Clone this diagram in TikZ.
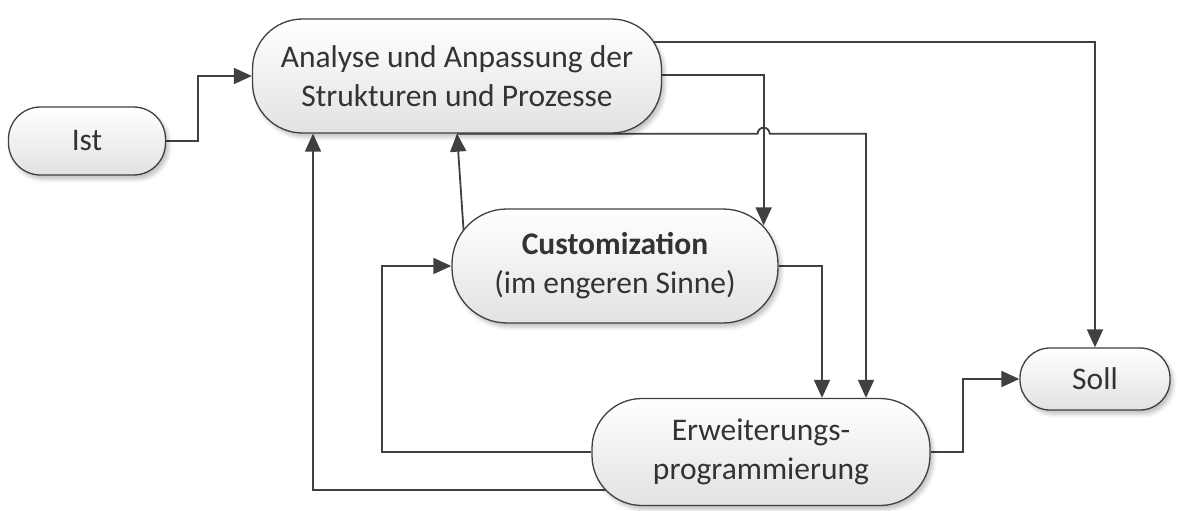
\documentclass[tikz,border=0pt]{standalone}
\usepackage{fontspec}
\setmainfont{Carlito}
\usetikzlibrary{arrows.meta,calc,shadows.blur}
\definecolor{edge}{HTML}{404040}
\definecolor{ink}{HTML}{333333}
\definecolor{fillbot}{HTML}{E2E2E2}
\pgfdeclarelayer{background}
\pgfsetlayers{background,main}
\tikzset{
  term/.style={draw=edge, line width=1.3pt, top color=white, bottom color=fillbot,
    text=ink, align=center, inner sep=0pt, font=\fontsize{31.5}{39}\selectfont,
    blur shadow={shadow xshift=3pt, shadow yshift=-4pt, shadow blur radius=4pt, shadow opacity=25}},
  flow/.style={draw=edge, line width=1.8pt, -{Triangle[length=18pt,width=16pt]}}
}
\begin{document}
\begin{tikzpicture}[x=1pt,y=-1pt]
\useasboundingbox (0,0) rectangle (1179,511);

% process steps
\node[term, minimum width=157pt, minimum height=68pt, rounded corners=32pt] (ist) at (87,141) {Ist};
\node[term, minimum width=409pt, minimum height=114pt, rounded corners=50pt] (ana) at (457,76)
  {Analyse und Anpassung der\\Strukturen und Prozesse};
\node[term, minimum width=326pt, minimum height=114pt, rounded corners=55pt] (cust) at (615,266)
  {\textbf{Customization}\\(im engeren Sinne)};
\node[term, minimum width=338pt, minimum height=107pt, rounded corners=50pt] (erw) at (761,452)
  {Erweiterungs-\\programmierung};
\node[term, minimum width=150pt, minimum height=62pt, rounded corners=30pt] (soll) at (1095,379) {Soll};

% docking points on the borders
\coordinate (custin) at ($(cust.north east)+(-15,17)$);
\coordinate (erwinA) at ($(erw.north)+(61,0)$);
\coordinate (erwinB) at ($(erw.north)+(105,0)$);
\coordinate (anainL) at ($(ana.south)+(-144,0)$);

\begin{pgfonlayer}{background}
\draw[flow] (ist.east) -- ++(32,0) |- (ana.west);
\draw[flow] ($(ana.center)+(0,-34)$) -| (soll.north);
\draw[flow] ($(ana.center)+(0,-1)$) -| (custin);
\draw[flow] (ana.south) -- ($(custin|-ana.south)+(-6,0)$)
  arc[start angle=180, end angle=0, radius=6pt] -| (erwinB);
\draw[flow] ($(cust.center)+(-149,0)$) -- (ana.south);
\draw[flow] (cust.east) -| (erwinA);
\draw[flow] (erw.west) -- ++(-209,0) |- (cust.west);
\draw[flow] ($(erw.center)+(0,38)$) -| (anainL);
\draw[flow] (erw.east) -- ++(32,0) |- (soll.west);
\end{pgfonlayer}
\end{tikzpicture}
\end{document}
